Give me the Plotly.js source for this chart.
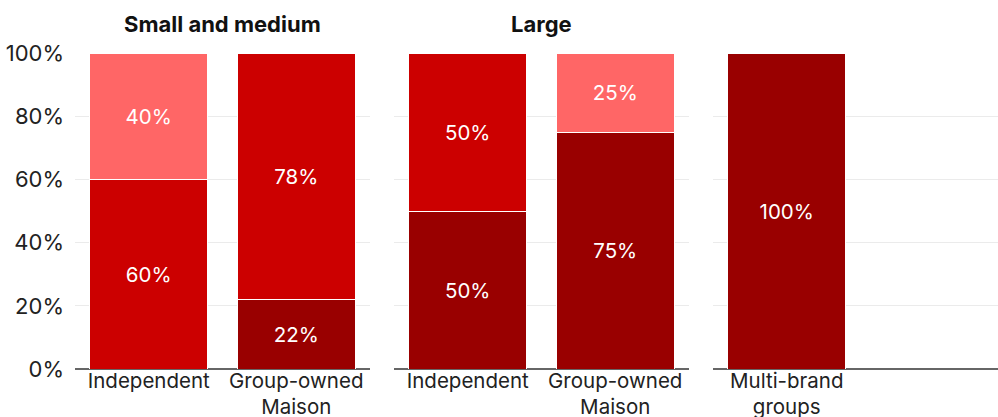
<!DOCTYPE html>
<html>
<head>
<meta charset="utf-8">
<script src="https://cdn.plot.ly/plotly-3.0.1.min.js"></script>
<style>html,body{margin:0;padding:0;background:#fff;}#chart{width:998px;height:417px;}</style>
</head>
<body>
<div id="chart"></div>
<script>
// Panel titles and categories
const panelTitles = ["Small and medium", "Large", ""];
const panelCats = [
  ["Independent", "Group-owned<br>Maison"],
  ["Independent", "Group-owned<br>Maison"],
  ["Multi-brand<br>groups"]
];
// Series values per panel (percent), null = no segment
const darkVals  = [[null, 22], [50, 75], [100]];
const redVals   = [[60, 78], [50, null], [null]];
const lightVals = [[40, null], [null, 25], [null]];
const seriesNames = ["Dark", "Red", "Light"];
const seriesColors = ["#990000", "#cc0000", "#ff6666"];
const yTicks = [0, 20, 40, 60, 80, 100];
const yTickLabels = ["0%", "20%", "40%", "60%", "80%", "100%"];

const FONT = "Inter, 'Noto Sans', sans-serif";
const allVals = [darkVals, redVals, lightVals];
const traces = [];
for (let p = 0; p < 3; p++) {
  for (let s = 0; s < 3; s++) {
    const v = allVals[s][p];
    traces.push({
      type: "bar",
      name: seriesNames[s],
      x: panelCats[p],
      y: v,
      xaxis: p === 0 ? "x" : "x" + (p + 1),
      yaxis: p === 0 ? "y" : "y" + (p + 1),
      marker: {color: seriesColors[s], line: {color: "#ffffff", width: 1}},
      text: v.map(d => d == null ? "" : d + "%"),
      texttemplate: "%{text}",
      textposition: "inside",
      insidetextanchor: "middle",
      textfont: {color: "#ffffff", size: 20.5, family: FONT},
      hoverinfo: "skip",
      showlegend: false,
      cliponaxis: false
    });
  }
}

const domains = [[0, 0.3196], [0.3456, 0.6652], [0.6912, 1]];
const layout = {
  width: 998, height: 417,
  margin: {l: 75, r: 0, t: 53, b: 48, pad: 0},
  barmode: "stack",
  bargap: 0.2,
  paper_bgcolor: "#ffffff",
  plot_bgcolor: "#ffffff",
  font: {family: FONT, color: "#222222", size: 21},
  showlegend: false,
  annotations: []
};
for (let p = 0; p < 3; p++) {
  const xk = p === 0 ? "xaxis" : "xaxis" + (p + 1);
  const yk = p === 0 ? "yaxis" : "yaxis" + (p + 1);
  layout[xk] = {
    domain: domains[p],
    type: "category",
    range: p === 2 ? [-0.5, 1.432] : [-0.5, 1.5],
    showgrid: false, showline: false, zeroline: false,
    ticks: "", tickfont: {size: 20.5, color: "#222222", family: FONT},
    ticklabelstandoff: -3,
    anchor: p === 0 ? "y" : "y" + (p + 1),
    fixedrange: true
  };
  layout[yk] = {
    range: [0, 100],
    tickvals: yTicks,
    ticktext: yTickLabels,
    showticklabels: p === 0,
    tickfont: {size: 22, color: "#222222", family: FONT},
    ticklabelstandoff: 10,
    showgrid: true, gridcolor: "#ebebeb", gridwidth: 1,
    zeroline: true, zerolinecolor: "#666666", zerolinewidth: 2,
    showline: false, ticks: "",
    anchor: p === 0 ? "x" : "x" + (p + 1),
    fixedrange: true
  };
  if (panelTitles[p]) {
    layout.annotations.push({
      text: "<b>" + panelTitles[p] + "</b>",
      xref: "paper", yref: "paper",
      x: (domains[p][0] + domains[p][1]) / 2, y: 1,
      yshift: 29, xanchor: "center", yanchor: "middle",
      showarrow: false,
      font: {size: 22, color: "#111111", family: FONT}
    });
  }
}
Plotly.newPlot("chart", traces, layout, {displayModeBar: false, staticPlot: true});
</script>
</body>
</html>
